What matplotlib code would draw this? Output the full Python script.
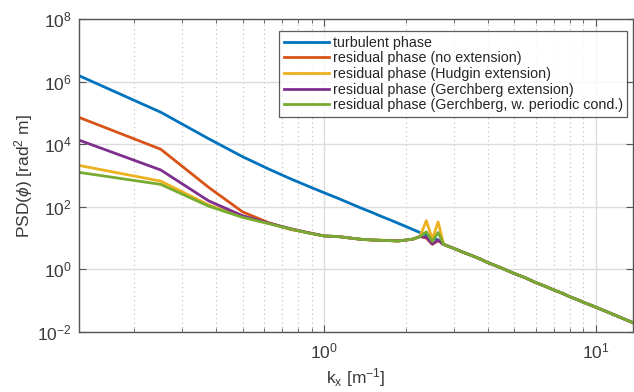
import matplotlib
matplotlib.use('Agg')
import matplotlib.pyplot as plt
from matplotlib.ticker import LogLocator, NullFormatter, NullLocator
import numpy as np

plt.rcParams['font.family'] = ['Liberation Sans', 'DejaVu Sans']
plt.rcParams['mathtext.fontset'] = 'custom'
plt.rcParams['mathtext.rm'] = 'Liberation Sans'
plt.rcParams['mathtext.it'] = 'Liberation Sans:italic'

# spatial frequency samples (m^-1)
k_low = [0.125, 0.25, 0.375, 0.5, 0.625, 0.75, 0.875, 1.0]
k_mid = [1.125, 1.25, 1.375, 1.5, 1.625, 1.75, 1.875, 2.0, 2.125, 2.25]
k_peak = [2.375, 2.5, 2.625]
k_tail = [2.75, 2.875, 3.0, 3.25, 3.5, 3.75, 4.0, 4.5, 5.0, 5.5, 6.0, 6.5,
          7.0, 7.5, 8.0, 8.5, 9.0, 9.5, 10.0, 11.0, 12.0, 13.0, 13.75]

# turbulent phase PSD (up to k = 2.625)
turb_head = [1.55e6, 1.05e5, 1.5e4, 4.0e3, 1.6e3, 7.9e2, 4.5e2, 2.8e2,
             186, 126, 89, 66, 49, 38, 29.5, 23.4, 18.6, 15.1,
             12.6, 10.5, 8.7]

# residual phase PSDs, low-frequency part
res_none_low = [7.2e4, 6.9e3, 4.2e2, 69, 31, 19, 14.8, 11.7]
res_hudgin_low = [2.1e3, 6.6e2, 1.15e2, 48, 29.5, 20, 14.8, 11.7]
res_gerch_low = [1.35e4, 1.5e3, 1.55e2, 52, 30, 20, 14.8, 11.7]
res_gperi_low = [1.26e3, 5.2e2, 1.05e2, 46, 29, 19.5, 14.5, 11.7]

# common residual plateau
res_mid = [11.2, 10.0, 9.1, 8.7, 8.5, 8.3, 8.1, 8.7, 9.3, 11.2]

# aliasing peaks
res_none_peak = [10.0, 6.3, 8.3]
res_hudgin_peak = [36, 9.3, 33]
res_gerch_peak = [10.7, 6.5, 8.7]
res_gperi_peak = [15.8, 7.8, 15.1]

# shared high-frequency tail
tail = [6.3, 5.4, 4.7, 3.5, 2.75, 2.15, 1.65, 1.1, 0.74, 0.54, 0.38, 0.29,
        0.22, 0.175, 0.135, 0.11, 0.089, 0.074, 0.062, 0.044, 0.032, 0.024, 0.0195]

labels = ['turbulent phase',
          'residual phase (no extension)',
          'residual phase (Hudgin extension)',
          'residual phase (Gerchberg extension)',
          'residual phase (Gerchberg, w. periodic cond.)']
colors = ['#0072BD', '#D95319', '#EDB120', '#7E2F8E', '#77AC30']

k_all = k_low + k_mid + k_peak + k_tail
series = [
    turb_head + tail,
    res_none_low + res_mid + res_none_peak + tail,
    res_hudgin_low + res_mid + res_hudgin_peak + tail,
    res_gerch_low + res_mid + res_gerch_peak + tail,
    res_gperi_low + res_mid + res_gperi_peak + tail,
]

fig = plt.figure(figsize=(6.34, 3.92), dpi=100)
ax = fig.add_axes([79 / 634, 1 - 332 / 392, 554 / 634, 313 / 392])

for vals, lab, col in zip(series, labels, colors):
    ax.plot(k_all, vals, color=col, lw=2, label=lab)

ax.set_xscale('log')
ax.set_yscale('log')
ax.set_xlim(0.125, 13.7)
ax.set_ylim(1e-2, 1e8)
ax.set_yticks([1e-2, 1e0, 1e2, 1e4, 1e6, 1e8])
ax.yaxis.set_minor_locator(NullLocator())
ax.xaxis.set_minor_locator(LogLocator(base=10, subs=np.arange(2, 10)))
ax.xaxis.set_minor_formatter(NullFormatter())

ax.grid(True, which='major', color='#dcdcdc', lw=1, ls='-')
ax.grid(True, which='minor', axis='x', color='#bdbdbd', lw=0.8, ls=(0, (1, 3)))
ax.set_axisbelow(True)

edge = '#555555'
for s in ax.spines.values():
    s.set_color(edge)
    s.set_linewidth(1.0)
ax.tick_params(which='both', direction='in', top=True, right=True,
               colors=edge, labelcolor='#3a3a3a', labelsize=12.5)
ax.tick_params(which='major', length=5)
ax.tick_params(which='minor', length=3)
ax.tick_params(axis='x', which='major', pad=7)
ax.tick_params(axis='y', which='major', pad=5)

ax.set_xlabel('k$_\\mathregular{x}$ [m$^{\\mathregular{-1}}$]', fontsize=12.5,
              color='#3a3a3a', labelpad=3)
ax.set_ylabel('PSD($\\phi$) [rad$^{\\mathregular{2}}$ m]', fontsize=12.5,
              color='#3a3a3a', labelpad=2)

leg = ax.legend(loc='upper right', bbox_to_anchor=(0.995, 0.97), fontsize=10.3,
                frameon=True, fancybox=False, borderpad=0.3, labelspacing=0.12,
                handlelength=3.2, handletextpad=0.25, borderaxespad=0.2)
leg.get_frame().set_edgecolor('#333333')
leg.get_frame().set_linewidth(0.9)
for t in leg.get_texts():
    t.set_color('#262626')

fig.savefig('out.png', dpi=100)
